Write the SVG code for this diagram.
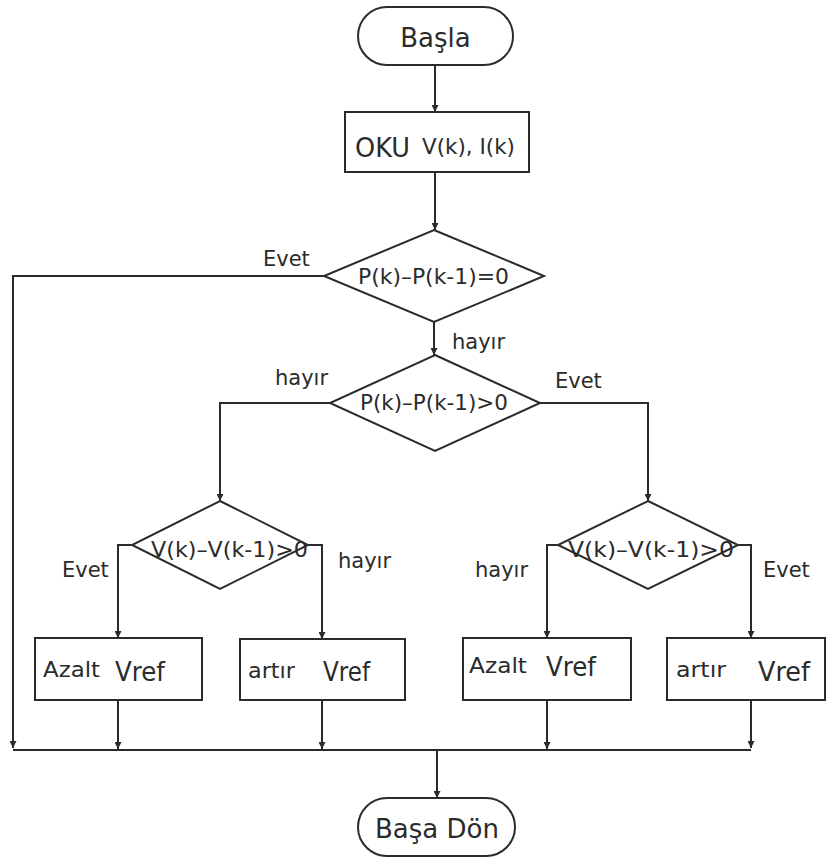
<svg xmlns="http://www.w3.org/2000/svg" width="827" height="860" viewBox="0 0 827 860">
  <defs>
    <marker id="arrow" viewBox="0 0 8 8" refX="8" refY="4" markerWidth="7" markerHeight="7" markerUnits="userSpaceOnUse" orient="auto">
      <path d="M0,0 L8,4 L0,8 z" fill="#2b2b2b"/>
    </marker>
    <style>
      .shape { fill: #ffffff; stroke: #2b2b2b; stroke-width: 2; }
      .line { fill: none; stroke: #2b2b2b; stroke-width: 2; }
      .arrow { marker-end: url(#arrow); }
      text { font-family: "DejaVu Sans", Verdana, sans-serif; fill: #2b2b2b; }
      .big { font-size: 26px; }
      .cond { font-size: 21px; }
      .lbl { font-size: 21px; }
      .act { font-size: 22px; }
      .vref { font-size: 26px; }
    </style>
  </defs>
  <rect width="827" height="860" fill="#ffffff"/>

  <!-- connectors -->
  <g id="connectors">
    <path class="line arrow" d="M435,65 V112"/>
    <path class="line arrow" d="M435,172 V230"/>
    <path class="line arrow" d="M324,276 H13 V748"/>
    <path class="line arrow" d="M434,322 V355"/>
    <path class="line arrow" d="M330,403 H220 V501"/>
    <path class="line arrow" d="M540,403 H648 V501"/>
    <path class="line arrow" d="M132,545 H118 V638"/>
    <path class="line arrow" d="M308,545 H322 V639"/>
    <path class="line arrow" d="M558,545 H547 V638"/>
    <path class="line arrow" d="M738,545 H751 V638"/>
    <path class="line arrow" d="M118,700 V749"/>
    <path class="line arrow" d="M322,700 V749"/>
    <path class="line arrow" d="M547,700 V749"/>
    <path class="line arrow" d="M751,700 V748"/>
    <path class="line" d="M13,750 H751"/>
    <path class="line arrow" d="M437,750 V798"/>
    <text class="lbl" x="263" y="266">Evet</text>
    <text class="lbl" x="452" y="349">hayır</text>
    <text class="lbl" x="275" y="385">hayır</text>
    <text class="lbl" x="555" y="388">Evet</text>
    <text class="lbl" x="62" y="577">Evet</text>
    <text class="lbl" x="338" y="568">hayır</text>
    <text class="lbl" x="475" y="577">hayır</text>
    <text class="lbl" x="763" y="577">Evet</text>
  </g>

  <g id="start">
    <rect class="shape" x="358" y="7" width="155" height="58" rx="29"/>
    <text class="big" x="435.5" y="47" text-anchor="middle">Başla</text>
  </g>

  <g id="read">
    <rect class="shape" x="345" y="112" width="184" height="60"/>
    <text x="355" y="157" font-size="27" textLength="55" lengthAdjust="spacingAndGlyphs">OKU</text>
    <text x="422" y="154" font-size="21" textLength="93" lengthAdjust="spacingAndGlyphs">V(k), I(k)</text>
  </g>

  <g id="check-zero">
    <polygon class="shape" points="434,230 544,276 434,322 324,276"/>
    <text class="cond" x="358" y="284" textLength="151" lengthAdjust="spacingAndGlyphs">P(k)–P(k-1)=0</text>
  </g>

  <g id="check-power">
    <polygon class="shape" points="435,355 540,403 435,451 330,403"/>
    <text class="cond" x="360" y="410" textLength="148" lengthAdjust="spacingAndGlyphs">P(k)–P(k-1)&gt;0</text>
  </g>

  <g id="check-voltage-left">
    <polygon class="shape" points="220,501 308,545 220,589 132,545"/>
    <text class="cond" x="151" y="557" textLength="157" lengthAdjust="spacingAndGlyphs">V(k)–V(k-1)&gt;0</text>
  </g>

  <g id="check-voltage-right">
    <polygon class="shape" points="648,501 738,545 648,589 558,545"/>
    <text class="cond" x="568" y="557" textLength="166" lengthAdjust="spacingAndGlyphs">V(k)–V(k-1)&gt;0</text>
  </g>

  <g id="decrease-left">
    <rect class="shape" x="35" y="638" width="167" height="62"/>
    <text class="act" x="43" y="677" textLength="57" lengthAdjust="spacingAndGlyphs">Azalt</text>
    <text class="vref" x="115" y="681" textLength="50" lengthAdjust="spacingAndGlyphs">Vref</text>
  </g>

  <g id="increase-left">
    <rect class="shape" x="240" y="639" width="165" height="61"/>
    <text class="act" x="248" y="678" textLength="47" lengthAdjust="spacingAndGlyphs">artır</text>
    <text class="vref" x="323" y="681" textLength="47" lengthAdjust="spacingAndGlyphs">Vref</text>
  </g>

  <g id="decrease-right">
    <rect class="shape" x="463" y="638" width="168" height="62"/>
    <text class="act" x="469" y="673" textLength="58" lengthAdjust="spacingAndGlyphs">Azalt</text>
    <text class="vref" x="546" y="676" textLength="50" lengthAdjust="spacingAndGlyphs">Vref</text>
  </g>

  <g id="increase-right">
    <rect class="shape" x="667" y="638" width="158" height="62"/>
    <text class="act" x="676" y="677" textLength="50" lengthAdjust="spacingAndGlyphs">artır</text>
    <text class="vref" x="758" y="681" textLength="52" lengthAdjust="spacingAndGlyphs">Vref</text>
  </g>

  <g id="return">
    <rect class="shape" x="358" y="798" width="157" height="58" rx="29"/>
    <text class="big" x="437" y="838" text-anchor="middle">Başa Dön</text>
  </g>
</svg>
